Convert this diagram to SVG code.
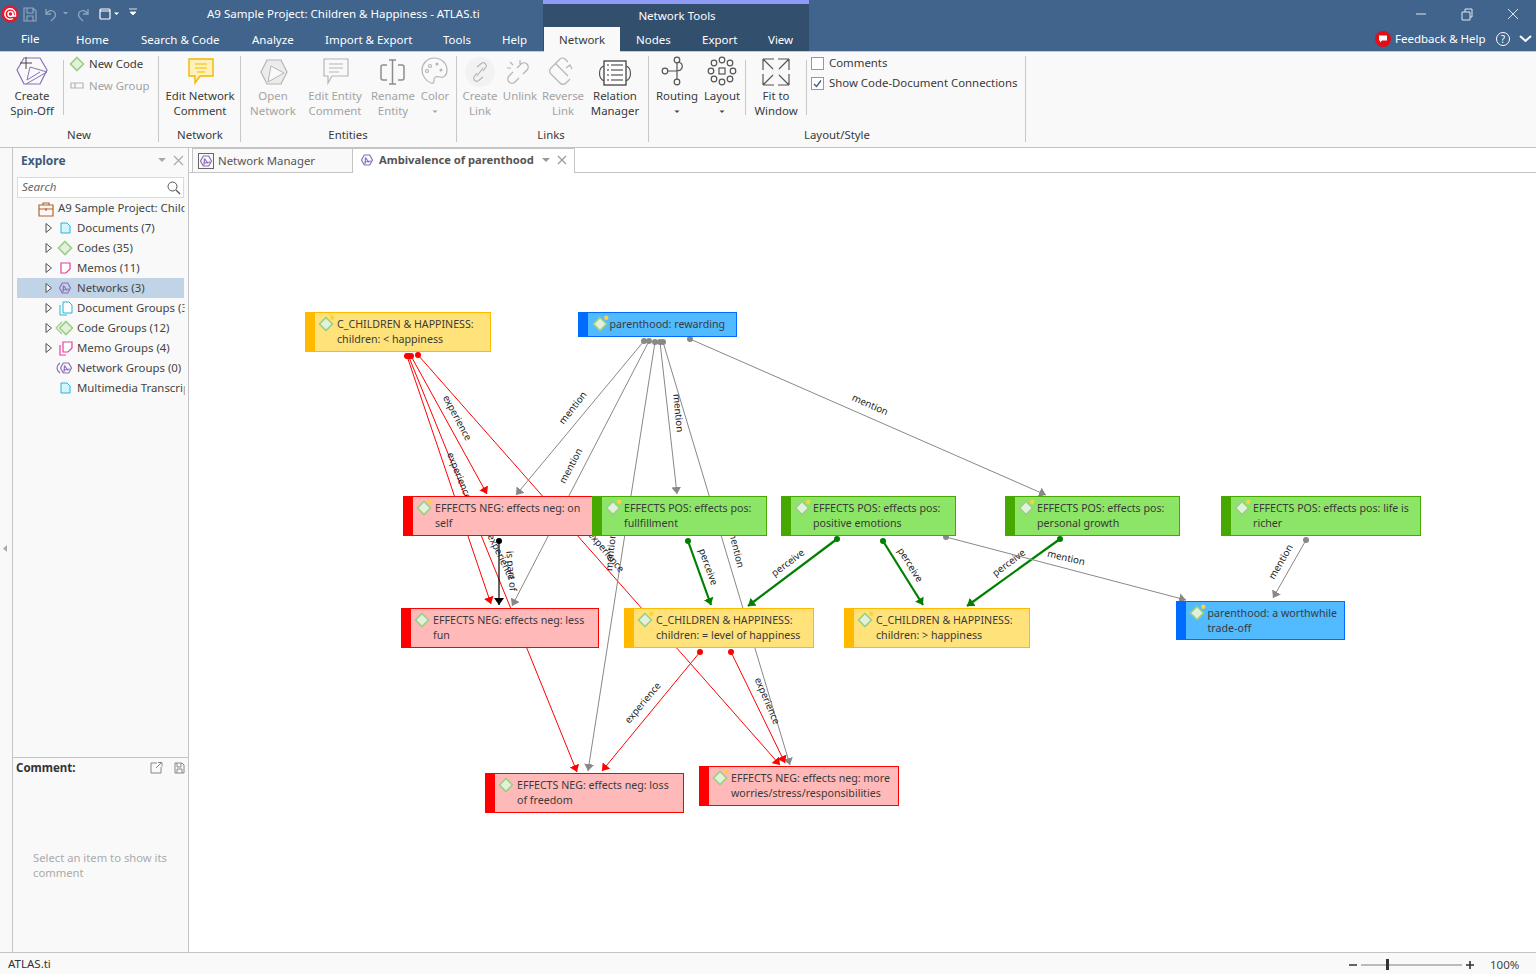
<svg xmlns="http://www.w3.org/2000/svg" xmlns:xlink="http://www.w3.org/1999/xlink" width="1536" height="974" viewBox="0 0 1536 974">
<style>
text{font-family:"Noto Sans","Open Sans","Liberation Sans",sans-serif;font-size:11.5px;fill:#333}
.w{fill:#fff}.m{fill:#fff;font-size:11.5px}.c{text-anchor:middle}
.rb{fill:#3a3a3a;font-size:11.4px}.d{fill:#a3a3a3;font-size:11.4px}
.t{fill:#444;font-size:11.4px}
.n{fill:#3a3a3a;font-size:10.65px}
.l{fill:#222;font-size:9.7px;text-anchor:middle}
.e{fill:none;stroke-width:1}
.r{stroke:#f00;marker-start:url(#dr);marker-end:url(#ar)}
.g{stroke:#888;marker-start:url(#dg);marker-end:url(#ag)}
.v{stroke:#008000;stroke-width:2.2;marker-start:url(#dv);marker-end:url(#av)}
.k{stroke:#000;stroke-width:1.2;marker-start:url(#dk);marker-end:url(#ak)}
.ic{fill:none;stroke:#555;stroke-width:1.2}
.id{fill:none;stroke:#b5b5b5;stroke-width:1.2}
.sep{stroke:#c8c8c8;stroke-width:1}
.pu{fill:none;stroke:#8a70b8;stroke-width:1.2}
</style>
<defs>
<marker id="ar" viewBox="0 0 7 10" refX="7" refY="5" markerWidth="7" markerHeight="10" markerUnits="userSpaceOnUse" orient="auto"><path d="M0 0L7 5L0 10Z" fill="#f00"/></marker>
<marker id="ag" viewBox="0 0 7 10" refX="7" refY="5" markerWidth="7" markerHeight="10" markerUnits="userSpaceOnUse" orient="auto"><path d="M0 0L7 5L0 10Z" fill="#888"/></marker>
<marker id="av" viewBox="0 0 7 10" refX="7" refY="5" markerWidth="7" markerHeight="10" markerUnits="userSpaceOnUse" orient="auto"><path d="M0 0L7 5L0 10Z" fill="#008000"/></marker>
<marker id="ak" viewBox="0 0 7 10" refX="7" refY="5" markerWidth="7" markerHeight="10" markerUnits="userSpaceOnUse" orient="auto"><path d="M0 0L7 5L0 10Z" fill="#000"/></marker>
<marker id="dr" viewBox="0 0 6 6" refX="3" refY="3" markerWidth="6" markerHeight="6" markerUnits="userSpaceOnUse"><circle cx="3" cy="3" r="3" fill="#f00"/></marker>
<marker id="dg" viewBox="0 0 6 6" refX="3" refY="3" markerWidth="6" markerHeight="6" markerUnits="userSpaceOnUse"><circle cx="3" cy="3" r="3" fill="#888"/></marker>
<marker id="dv" viewBox="0 0 6 6" refX="3" refY="3" markerWidth="6" markerHeight="6" markerUnits="userSpaceOnUse"><circle cx="3" cy="3" r="3" fill="#008000"/></marker>
<marker id="dk" viewBox="0 0 6 6" refX="3" refY="3" markerWidth="6" markerHeight="6" markerUnits="userSpaceOnUse"><circle cx="3" cy="3" r="3" fill="#000"/></marker>
<g id="dia"><path d="M0-6.5L6.5 0L0 6.5L-6.5 0Z" fill="#e2f1dc" stroke="#9ccf84" stroke-width="1.6"/></g>
<g id="dot"><use xlink:href="#dia" href="#dia"/><circle cx="6.3" cy="-6.3" r="2.2" fill="#ffd23c"/></g>
<g id="net"><path d="M-5.5 0L-2.7-5H2.7L5.5 0L2.7 5H-2.7Z" class="pu"/><path d="M-1.5-2.5L2 2.5M-1.5-2.5L-2 4M-2 2L4 1" class="pu"/></g>
<path id="tri" d="M-3-4.5L2.5 0L-3 4.5Z" fill="#f4f4f4" stroke="#555" stroke-width="1"/>
<clipPath id="tree"><rect x="17" y="198" width="167.500" height="200"/></clipPath>
</defs>

<rect width="1536" height="974" fill="#f9f9f9"/>
<g id="titlebar">
<rect width="1536" height="51" fill="#40648c"/>
<rect x="543" y="0" width="266" height="51" fill="#334f6e"/>
<rect x="543" y="0" width="266" height="4" fill="#8f9cf5"/>
<rect x="544" y="27" width="76" height="25" fill="#f9f9f9"/>
<circle cx="10" cy="14" r="8.500" fill="#e6162d"/><circle cx="10.500" cy="14" r="2.500" fill="none" stroke="#fff" stroke-width="1.500"/><path d="M13 14v2h2.500V14a5.300 5.300 0 1 0-2.500 4.500" fill="none" stroke="#fff" stroke-width="1.400"/>
<path d="M24 8h9l3 3v10H24ZM27 8v5h6V8M27 21v-5h6v5" fill="none" stroke="#8fa5bf" stroke-width="1.2"/>
<path d="M46 9v5h5M46 14c4-6 11-3 9 3l-4 4" fill="none" stroke="#8fa5bf" stroke-width="1.3"/>
<path d="M63 12l2.500 2.500L68 12Z" fill="#8fa5bf"/>
<path d="M88 9v5h-5M88 14c-4-6-11-3-9 3l4 4" fill="none" stroke="#8fa5bf" stroke-width="1.3"/>
<rect x="100" y="9" width="10" height="10" rx="1" fill="none" stroke="#fff" stroke-width="1.2"/><path d="M100 11h10" stroke="#fff"/>
<path d="M114 12.500l2.500 2.500l2.500-2.500Z" fill="#fff"/>
<path d="M129 9h8M130 12h6l-3 3Z" fill="#fff" stroke="#fff" stroke-width=".8"/>
<text class="m" x="207" y="18">A9 Sample Project: Children &amp; Happiness - ATLAS.ti</text>
<text class="m c" x="677" y="20">Network Tools</text>
<path d="M1416 14h10" stroke="#dfe5ee" stroke-width="1"/>
<path d="M1462 12h8v8h-8ZM1465 12V9h7v8h-2" fill="none" stroke="#dfe5ee"/>
<path d="M1508 9l10 10M1518 9l-10 10" stroke="#dfe5ee"/>
<text class="m" x="21" y="43">File</text>
<text class="m" x="76" y="44">Home</text>
<text class="m" x="141" y="44">Search &amp; Code</text>
<text class="m" x="252" y="44">Analyze</text>
<text class="m" x="325" y="44">Import &amp; Export</text>
<text class="m" x="443" y="44">Tools</text>
<text class="m" x="502" y="44">Help</text>
<text x="559" y="44" style="font-size:11.500px;fill:#3a3a3a">Network</text>
<text class="m" x="636" y="44">Nodes</text>
<text class="m" x="702" y="44">Export</text>
<text class="m" x="768" y="44">View</text>
<circle cx="1383" cy="39" r="8" fill="#e30d18"/><path d="M1379 35.500h8v5h-5l-2 2v-2h-1Z" fill="#fff"/>
<text class="m" x="1395" y="43">Feedback &amp; Help</text>
<circle cx="1503" cy="39" r="6.500" fill="none" stroke="#fff"/><text x="1503" y="43" class="c" style="fill:#fff;font-size:10px">?</text>
<path d="M1520 36l5.500 5l5.500-5" fill="none" stroke="#fff" stroke-width="2"/>
</g>

<g id="ribbon">
<rect x="0" y="51" width="1536" height="96" fill="#f9f9f9"/>
<path d="M0 51.500H544M620 51.500H1536" stroke="#c9c9c9"/>
<path d="M0 147.500H1536" stroke="#c4c4c4"/>
<g class="sep"><path d="M63.500 60v55M158.500 56v86M240.500 56v86M456.500 56v86M648.500 56v86M745.500 60v55M806.500 60v55M1025.500 56v86"/></g>
<path d="M24 58H40L47 70L40 84H24L17 70Z" fill="none" stroke="#8a70b8" stroke-width="1.200"/>
<path d="M30 67L47 72L26 84M30 67L27 80L40 72" fill="none" stroke="#8a70b8"/><path d="M26 57v12M20 63h12" stroke="#444"/>
<text class="rb c" x="32" y="100">Create</text><text class="rb c" x="32" y="115">Spin-Off</text>
<use xlink:href="#dia" href="#dia" x="77" y="64"/>
<text class="rb" x="89" y="68">New Code</text>
<path d="M71 83h4v5h-4ZM75 83h8v5h-8Z" class="id"/><text class="d" x="89" y="90">New Group</text>
<text class="rb c" x="79" y="139">New</text>
<path d="M189 59h24v17h-13l-5 7v-7h-6Z" fill="#fff1b8" stroke="#f2b705" stroke-width="1.400"/><path d="M195 64h12M195 68h12M197 72h8" stroke="#f2b705"/>
<text class="rb c" x="200" y="100">Edit Network</text><text class="rb c" x="200" y="115">Comment</text>
<text class="rb c" x="200" y="139">Network</text>
<path d="M267 60H281L287 72L281 84H267L261 72Z" fill="#ececec" stroke="#b5b5b5" stroke-width="1.200"/><path d="M271 66L284 73L268 82Z" fill="#f9f9f9" stroke="#b5b5b5"/>
<text class="d c" x="273" y="100">Open</text><text class="d c" x="273" y="115">Network</text>
<path d="M324 59h24v17h-16l-4 7v-7h-4Z" class="id"/><path d="M329 64h14M329 68h14M329 72h10" class="id"/>
<text class="d c" x="335" y="100">Edit Entity</text><text class="d c" x="335" y="115">Comment</text>
<path d="M387 65h-4a2 2 0 0 0-2 2v11a2 2 0 0 0 2 2h4M398 65h4a2 2 0 0 1 2 2v11a2 2 0 0 1-2 2h-4M389 60h7M389 84h7M392.500 60v24" fill="none" stroke="#8d8d8d" stroke-width="1.500"/>
<text class="d c" x="393" y="100">Rename</text><text class="d c" x="393" y="115">Entity</text>
<path d="M434 58c8 0 13 6 13 12c0 6-4 8-7 7c-4-1-6 0-6 3c0 2 0 4-3 3c-5-2-9-7-9-13c0-6 5-12 12-12Z" class="id"/><circle cx="430" cy="66" r="1.500" class="id"/><circle cx="437" cy="64" r="1.500" fill="#b5b5b5"/><circle cx="441" cy="70" r="1.500" fill="#b5b5b5"/><circle cx="427" cy="71" r="1.500" class="id"/>
<text class="d c" x="435" y="100">Color</text><path d="M432.500 110.500l2.500 2.500l2.500-2.500Z" fill="#a3a3a3"/>
<text class="rb c" x="348" y="139">Entities</text>
<circle cx="480" cy="72" r="15" fill="#f2f2f2"/><path d="M477 67l5-4a3 3 0 0 1 4 4l-3 4M483 77l-5 4a3 3 0 0 1-4-4l3-4M477 76l6-8" class="id"/>
<text class="d c" x="480" y="100">Create</text><text class="d c" x="480" y="115">Link</text>
<path d="M513 72l-4 4a4 4 0 0 0 6 6l4-4M523 74l4-4a4 4 0 0 0-6-6l-4 4M510 62l3 3M507 68h4M520 60v4" class="id"/>
<text class="d c" x="520" y="100">Unlink</text>
<path d="M560 59l-9 9a4 4 0 0 0 0 6l9 9a4 4 0 0 0 6 0l4-4M560 59a4 4 0 0 1 5 0l3 3M556 64l12 12M566 68l4-3l2 4" class="id"/>
<text class="d c" x="563" y="100">Reverse</text><text class="d c" x="563" y="115">Link</text>
<rect x="604" y="61" width="22" height="24" fill="#fff" stroke="#333" stroke-width="1.200"/><path d="M607 65h2M611 65h12M607 70h2M611 70h12M607 75h2M611 75h12M607 80h2M611 80h12" stroke="#333"/><path d="M604 66c-6 2-6 12 0 15M626 66c6 2 6 12 0 15" class="ic"/>
<text class="rb c" x="615" y="100">Relation</text><text class="rb c" x="615" y="115">Manager</text>
<text class="rb c" x="551" y="139">Links</text>
<circle cx="677" cy="60" r="2.800" class="ic"/><circle cx="665" cy="71" r="2.800" class="ic"/><circle cx="677" cy="82" r="2.800" class="ic"/><path d="M668 71h8c8 0 8-8 2-9M677 63v16" class="ic"/>
<text class="rb c" x="677" y="100">Routing</text><path d="M674.500 110.500l2.500 2.500l2.500-2.500Z" fill="#444"/>
<g class="ic"><rect x="719" y="68" width="6" height="6"/><circle cx="722" cy="60" r="2.800"/><circle cx="722" cy="82" r="2.800"/><circle cx="711" cy="71" r="2.800"/><circle cx="733" cy="71" r="2.800"/><circle cx="714" cy="63" r="2.800"/><circle cx="730" cy="63" r="2.800"/><circle cx="714" cy="79" r="2.800"/><circle cx="730" cy="79" r="2.800"/></g>
<text class="rb c" x="722" y="100">Layout</text><path d="M719.500 110.500l2.500 2.500l2.500-2.500Z" fill="#444"/>
<path d="M763 59l10 10M763 59v11M763 59h11M789 59l-10 10M789 59v11M789 59h-11M763 85l10-10M763 85v-11M763 85h11M789 85l-10-10M789 85v-11M789 85h-11" class="ic"/>
<text class="rb c" x="776" y="100">Fit to</text><text class="rb c" x="776" y="115">Window</text>
<rect x="811.500" y="57.500" width="12" height="12" fill="#fff" stroke="#999"/>
<text class="rb" x="829" y="67">Comments</text>
<rect x="811.500" y="77.500" width="12" height="12" fill="#fff" stroke="#999"/><path d="M814 84l2.500 2.500l4.500-6" fill="none" stroke="#3b5c88" stroke-width="1.300"/>
<text class="rb" x="829" y="87">Show Code-Document Connections</text>
<text class="rb c" x="837" y="139">Layout/Style</text>
</g>

<g id="explore-panel">
<rect x="0" y="148" width="189" height="804" fill="#f9f9f9"/>
<path d="M12.500 148V952M188.500 148V952" stroke="#c4c4c4"/>
<path d="M7 545v7l-4-3.500Z" fill="#aaa"/>
<text x="21" y="165" style="font-size:12px;font-weight:700;fill:#3f5a7c">Explore</text>
<path d="M158 158h8l-4 4Z" fill="#aaa"/><path d="M174 156l9 9M183 156l-9 9" stroke="#aaa" stroke-width="1.200"/>
<rect x="17.500" y="177.500" width="166" height="20" fill="#fff" stroke="#d5dbe3"/>
<text x="22" y="191" style="font-size:11.500px;font-style:italic;fill:#666">Search</text>
<circle cx="172.500" cy="186.500" r="4.500" fill="none" stroke="#555"/><path d="M176 190l4 4" stroke="#555" stroke-width="1.300"/>
<rect x="17" y="278" width="167" height="20" fill="#c1d3e6"/>
<g clip-path="url(#tree)">
<path d="M39 205h14v11H39ZM39 209h14M43 205v-2h6v2M46 208v3" fill="none" stroke="#b5642a" stroke-width="1.200"/>
<text class="t" x="58" y="212">A9 Sample Project: Child</text>
<text class="t" x="77" y="232">Documents (7)</text>
<text class="t" x="77" y="252">Codes (35)</text>
<text class="t" x="77" y="272">Memos (11)</text>
<text class="t" x="77" y="292">Networks (3)</text>
<text class="t" x="77" y="312">Document Groups (3</text>
<text class="t" x="77" y="332">Code Groups (12)</text>
<text class="t" x="77" y="352">Memo Groups (4)</text>
<text class="t" x="77" y="372">Network Groups (0)</text>
<text class="t" x="77" y="392">Multimedia Transcrip</text>
</g>
<use xlink:href="#tri" href="#tri" x="49" y="228"/><use xlink:href="#tri" href="#tri" x="49" y="248"/><use xlink:href="#tri" href="#tri" x="49" y="268"/><use xlink:href="#tri" href="#tri" x="49" y="288"/><use xlink:href="#tri" href="#tri" x="49" y="308"/><use xlink:href="#tri" href="#tri" x="49" y="328"/><use xlink:href="#tri" href="#tri" x="49" y="348"/>
<path d="M61 223h6l3 3v7H61Z" fill="#d6f5fb" stroke="#22b5d8"/>
<use xlink:href="#dia" href="#dia" x="65" y="248"/>
<path d="M61 263h9v6l-4 4h-5Z" fill="#fff" stroke="#e3409c" stroke-width="1.200"/>
<use xlink:href="#net" href="#net" x="65" y="288"/>
<path d="M63 302h6l3 3v8H63ZM60 305v10h7" fill="#fff" stroke="#22b5d8"/>
<use xlink:href="#dia" href="#dia" x="66" y="328"/><path d="M62 322l-6 6l6 6" fill="none" stroke="#9ccf84" stroke-width="1.200"/>
<path d="M63 342h9v6l-4 4h-5ZM60 345v10h6" fill="#fff" stroke="#e3409c" stroke-width="1.200"/>
<use xlink:href="#net" href="#net" x="66" y="368"/><path d="M60 363c-4 3-4 7 0 10" class="pu"/>
<path d="M61 383h6l3 3v7H61Z" fill="#d6f5fb" stroke="#22b5d8"/>
<path d="M12 757.500H188" stroke="#c4c4c4"/>
<text x="16" y="772" style="font-size:11.500px;font-weight:700;fill:#333">Comment:</text>
<path d="M157 763h-6v10h10v-6M156 768l5-5M158 762.500h4v4" fill="none" stroke="#888"/>
<path d="M175 763h7l2 2v8h-9ZM177 763v4h4v-4M177 773v-4h5v4" fill="none" stroke="#888"/>
<text x="33" y="862" style="font-size:11.250px;fill:#aaa">Select an item to show its</text>
<text x="33" y="877" style="font-size:11.250px;fill:#aaa">comment</text>
</g>

<g id="tabs">
<rect x="189" y="148" width="1347" height="804" fill="#fff"/>
<path d="M189 172.500H1536" stroke="#c4c4c4"/>
<rect x="192.500" y="148.500" width="160" height="24" fill="#f9f9f9" stroke="#c4c4c4"/>
<rect x="198.500" y="153.500" width="15" height="15" fill="none" stroke="#666"/><use xlink:href="#net" href="#net" x="206" y="161"/>
<text x="218" y="165" style="font-size:11.400px;fill:#555">Network Manager</text>
<rect x="353" y="148" width="221" height="25" fill="#fff"/><path d="M353 148.500H574.500V172" fill="none" stroke="#c4c4c4"/>
<use xlink:href="#net" href="#net" x="367" y="160"/>
<text x="379" y="164" style="font-size:11.200px;font-weight:700;fill:#555">Ambivalence of parenthood</text>
<path d="M542 158h8l-4 4Z" fill="#999"/><path d="M558 156l8 8M566 156l-8 8" stroke="#999" stroke-width="1.200"/>
</g>

<g id="connectors">
<g class="e">
<path class="r" d="M407 356L491 604"/>
<path class="r" d="M408.500 356L577 772"/>
<path class="r" d="M411 356L487 494"/>
<path class="r" d="M418 355L780 765"/>
<path class="g" d="M644 341L516 495"/>
<path class="g" d="M649 341L512 606"/>
<path class="g" d="M655 342L588 771"/>
<path class="g" d="M660 342L677 494"/>
<path class="g" d="M663 342L790 765"/>
<path class="g" d="M690 339L1046 495"/>
<path class="k" d="M499 541V605"/>
<path class="v" d="M688 541L711 605"/>
<path class="v" d="M837 539L748 606"/>
<path class="v" d="M883 541L923 605"/>
<path class="v" d="M1060 539L967 606"/>
<path class="g" d="M946 537L1186 600"/>
<path class="g" d="M1306 540L1273 598"/>
<path class="r" d="M700 652L602 771"/>
<path class="r" d="M731 652L785 763"/>
</g>
<g id="connector-labels">
<text class="l" transform="translate(457 418) rotate(62)" y="3">experience</text>
<text class="l" transform="translate(459 476) rotate(68)" y="3">experience</text>
<text class="l" transform="translate(501 557) rotate(64)" y="3">experience</text>
<text class="l" transform="translate(606 552) rotate(50)" y="3">experience</text>
<text class="l" transform="translate(643 703) rotate(-50)" y="3">experience</text>
<text class="l" transform="translate(767 701) rotate(67)" y="3">experience</text>
<text class="l" transform="translate(511 571) rotate(85)" y="3">is part of</text>
<text class="l" transform="translate(573 408) rotate(-52)" y="3">mention</text>
<text class="l" transform="translate(571 466) rotate(-62)" y="3">mention</text>
<text class="l" transform="translate(678 413) rotate(85)" y="3">mention</text>
<text class="l" transform="translate(870 405) rotate(24)" y="3">mention</text>
<text class="l" transform="translate(611 552) rotate(-85)" y="3">mention</text>
<text class="l" transform="translate(736 549) rotate(76)" y="3">mention</text>
<text class="l" transform="translate(1066 558) rotate(13)" y="3">mention</text>
<text class="l" transform="translate(1281 562) rotate(-60)" y="3">mention</text>
<text class="l" transform="translate(708 567) rotate(70)" y="3">perceive</text>
<text class="l" transform="translate(788 563) rotate(-37)" y="3">perceive</text>
<text class="l" transform="translate(910 565) rotate(58)" y="3">perceive</text>
<text class="l" transform="translate(1009 563) rotate(-37)" y="3">perceive</text>
</g>
</g>

<g id="nodes">
<g id="n-children-less"><rect x="305.500" y="312.500" width="185" height="39" fill="#ffe27a" stroke="#ffba00"/><rect x="305" y="312" width="10" height="40" fill="#ffba00"/><use xlink:href="#dot" href="#dot" x="326" y="324"/><text class="n" x="337" y="328">C_CHILDREN &amp; HAPPINESS:</text><text class="n" x="337" y="343">children: &lt; happiness</text></g>
<g id="n-rewarding"><rect x="578.500" y="312.500" width="158" height="24" fill="#52baff" stroke="#006cff"/><rect x="578" y="312" width="10" height="25" fill="#006cff"/><use xlink:href="#dot" href="#dot" x="600" y="324"/><text class="n" x="609.500" y="328">parenthood: rewarding</text></g>
<g id="n-on-self"><rect x="403.500" y="496.500" width="189" height="39" fill="#ffb9b9" stroke="#f00"/><rect x="403" y="496" width="10" height="40" fill="#f00"/><use xlink:href="#dot" href="#dot" x="424" y="508"/><text class="n" x="435" y="512">EFFECTS NEG: effects neg: on</text><text class="n" x="435" y="527">self</text></g>
<g id="n-fulfillment"><rect x="592.500" y="496.500" width="174" height="39" fill="#8ce566" stroke="#46a800"/><rect x="592" y="496" width="10" height="40" fill="#46a800"/><use xlink:href="#dot" href="#dot" x="613" y="508"/><text class="n" x="624" y="512">EFFECTS POS: effects pos:</text><text class="n" x="624" y="527">fullfillment</text></g>
<g id="n-positive"><rect x="781.500" y="496.500" width="174" height="39" fill="#8ce566" stroke="#46a800"/><rect x="781" y="496" width="10" height="40" fill="#46a800"/><use xlink:href="#dot" href="#dot" x="802" y="508"/><text class="n" x="813" y="512">EFFECTS POS: effects pos:</text><text class="n" x="813" y="527">positive emotions</text></g>
<g id="n-growth"><rect x="1005.500" y="496.500" width="174" height="39" fill="#8ce566" stroke="#46a800"/><rect x="1005" y="496" width="10" height="40" fill="#46a800"/><use xlink:href="#dot" href="#dot" x="1026" y="508"/><text class="n" x="1037" y="512">EFFECTS POS: effects pos:</text><text class="n" x="1037" y="527">personal growth</text></g>
<g id="n-richer"><rect x="1221.500" y="496.500" width="199" height="39" fill="#8ce566" stroke="#46a800"/><rect x="1221" y="496" width="10" height="40" fill="#46a800"/><use xlink:href="#dot" href="#dot" x="1242" y="508"/><text class="n" x="1253" y="512">EFFECTS POS: effects pos: life is</text><text class="n" x="1253" y="527">richer</text></g>
<g id="n-less-fun"><rect x="401.500" y="608.500" width="197" height="39" fill="#ffb9b9" stroke="#f00"/><rect x="401" y="608" width="10" height="40" fill="#f00"/><use xlink:href="#dia" href="#dia" x="422" y="620"/><text class="n" x="433" y="624">EFFECTS NEG: effects neg: less</text><text class="n" x="433" y="639">fun</text></g>
<g id="n-children-equal"><rect x="624.500" y="608.500" width="189" height="39" fill="#ffe27a" stroke="#ffba00"/><rect x="624" y="608" width="10" height="40" fill="#ffba00"/><use xlink:href="#dot" href="#dot" x="645" y="620"/><text class="n" x="656" y="624">C_CHILDREN &amp; HAPPINESS:</text><text class="n" x="656" y="639">children: = level of happiness</text></g>
<g id="n-children-more"><rect x="844.500" y="608.500" width="185" height="39" fill="#ffe27a" stroke="#ffba00"/><rect x="844" y="608" width="10" height="40" fill="#ffba00"/><use xlink:href="#dot" href="#dot" x="865" y="620"/><text class="n" x="876" y="624">C_CHILDREN &amp; HAPPINESS:</text><text class="n" x="876" y="639">children: &gt; happiness</text></g>
<g id="n-worthwhile"><rect x="1176.500" y="601.500" width="168" height="38" fill="#52baff" stroke="#006cff"/><rect x="1176" y="601" width="10" height="39" fill="#006cff"/><use xlink:href="#dot" href="#dot" x="1197" y="613"/><text class="n" x="1207.500" y="617">parenthood: a worthwhile</text><text class="n" x="1207.500" y="632">trade-off</text></g>
<g id="n-freedom"><rect x="485.500" y="773.500" width="198" height="39" fill="#ffb9b9" stroke="#f00"/><rect x="485" y="773" width="10" height="40" fill="#f00"/><use xlink:href="#dia" href="#dia" x="506" y="785"/><text class="n" x="517" y="789">EFFECTS NEG: effects neg: loss</text><text class="n" x="517" y="804">of freedom</text></g>
<g id="n-worries"><rect x="699.500" y="766.500" width="199" height="39" fill="#ffb9b9" stroke="#f00"/><rect x="699" y="766" width="10" height="40" fill="#f00"/><use xlink:href="#dot" href="#dot" x="720" y="778"/><text class="n" x="731" y="782">EFFECTS NEG: effects neg: more</text><text class="n" x="731" y="797">worries/stress/responsibilities</text></g>
</g>

<g id="statusbar">
<rect x="0" y="952" width="1536" height="22" fill="#f9f9f9"/>
<path d="M0 952.500H1536" stroke="#c4c4c4"/>
<text x="8" y="968" style="font-size:11.500px;fill:#333">ATLAS.ti</text>
<path d="M1349 965h8M1466 965h8M1470 961v8" stroke="#333" stroke-width="1.600"/>
<path d="M1361 965h101" stroke="#bbb" stroke-width="2"/>
<rect x="1386" y="959" width="3" height="11" fill="#333"/>
<text x="1490" y="969" style="font-size:11.500px;fill:#444">100%</text>
</g>
</svg>
